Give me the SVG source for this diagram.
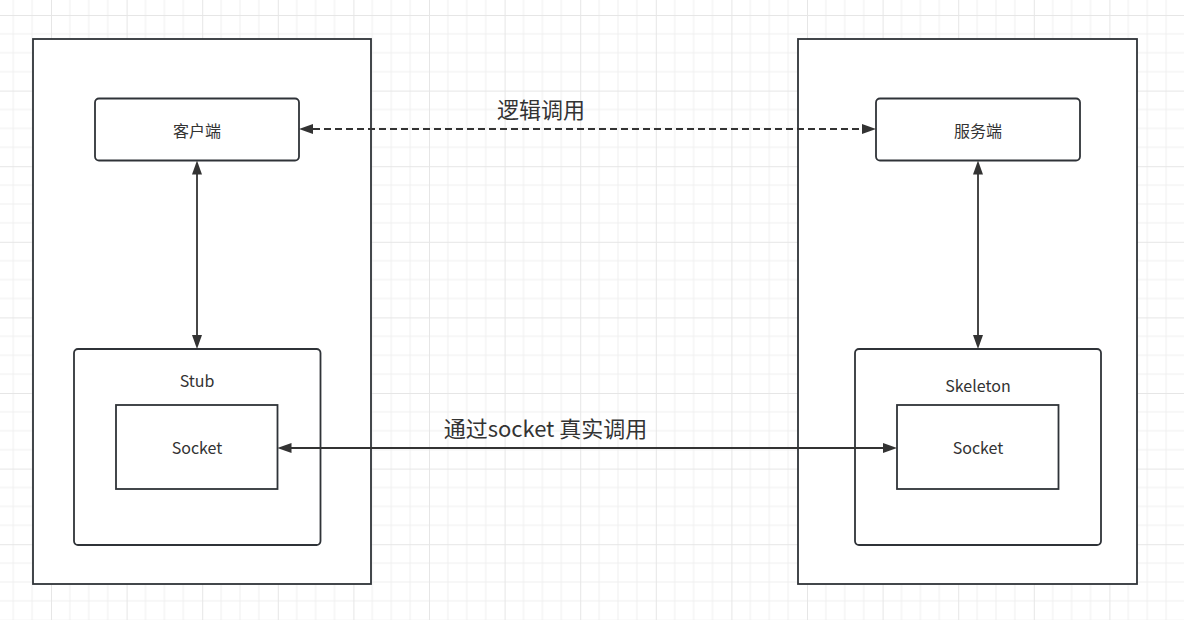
<svg xmlns="http://www.w3.org/2000/svg" width="1184" height="620" viewBox="0 0 1184 620">
  <defs>
    <pattern id="grid" x="51" y="15" width="75.6" height="75.6" patternUnits="userSpaceOnUse">
      <path d="M18.9 0V75.6M37.8 0V75.6M56.7 0V75.6M0 18.9H75.6M0 37.8H75.6M0 56.7H75.6" stroke="#f0f0f0" stroke-width="1" fill="none"/>
      <path d="M0 0V75.6M0 0H75.6" stroke="#e6e6e6" stroke-width="2" fill="none"/>
    </pattern>
    <marker id="arr" viewBox="0 0 14 10" refX="11" refY="5" markerWidth="14" markerHeight="10" markerUnits="userSpaceOnUse" orient="auto-start-reverse">
      <path d="M0 0L14 5L0 10z" fill="#333"/>
    </marker>
  </defs>
  <style>
    .outer { fill: #fff; stroke: #2f3338; stroke-width: 1.8; }
    .box { fill: #fff; stroke: #2f3338; stroke-width: 1.8; }
    .lbl { font-family: "Noto Sans CJK SC", "Noto Sans", sans-serif; font-size: 16px; fill: #333; text-anchor: middle; dominant-baseline: central; }
    .big { font-family: "Noto Sans CJK SC", "Noto Sans", sans-serif; font-size: 22px; fill: #333; text-anchor: middle; dominant-baseline: central; }
    .conn { stroke: #333; stroke-width: 1.8; fill: none; marker-start: url(#arr); marker-end: url(#arr); }
  </style>
  <rect width="1184" height="620" fill="#fff"/>
  <rect width="1184" height="620" fill="url(#grid)"/>

  <g id="client-side">
    <rect class="outer" x="33" y="39" width="338" height="545"/>
  </g>
  <g id="server-side">
    <rect class="outer" x="798" y="39" width="339" height="545"/>
  </g>
  <g id="client">
    <rect class="box" x="95" y="98.5" width="204" height="62" rx="4"/>
    <text class="lbl" x="197" y="130">客户端</text>
  </g>
  <g id="server">
    <rect class="box" x="876" y="98.5" width="204" height="62" rx="4"/>
    <text class="lbl" x="978" y="130">服务端</text>
  </g>
  <g id="stub">
    <rect class="box" x="74" y="349" width="246.5" height="196" rx="4"/>
    <text class="lbl" x="197" y="380">Stub</text>
  </g>
  <g id="stub-socket">
    <rect class="box" x="116" y="405" width="161.5" height="84"/>
    <text class="lbl" x="197" y="447">Socket</text>
  </g>
  <g id="skeleton">
    <rect class="box" x="855" y="349" width="246" height="196" rx="4"/>
    <text class="lbl" x="978" y="385">Skeleton</text>
  </g>
  <g id="skeleton-socket">
    <rect class="box" x="897" y="405" width="161.5" height="84"/>
    <text class="lbl" x="978" y="447">Socket</text>
  </g>

  <g id="connectors">
    <line class="conn" x1="302" y1="129" x2="873" y2="129" stroke-dasharray="7 4"/>
    <line class="conn" x1="197" y1="163.5" x2="197" y2="346"/>
    <line class="conn" x1="978" y1="163.5" x2="978" y2="346"/>
    <line class="conn" x1="280.5" y1="448" x2="894" y2="448"/>
    <text class="big" x="541" y="108">逻辑调用</text>
    <text class="big" x="545.5" y="427">通过socket 真实调用</text>
  </g>
</svg>
